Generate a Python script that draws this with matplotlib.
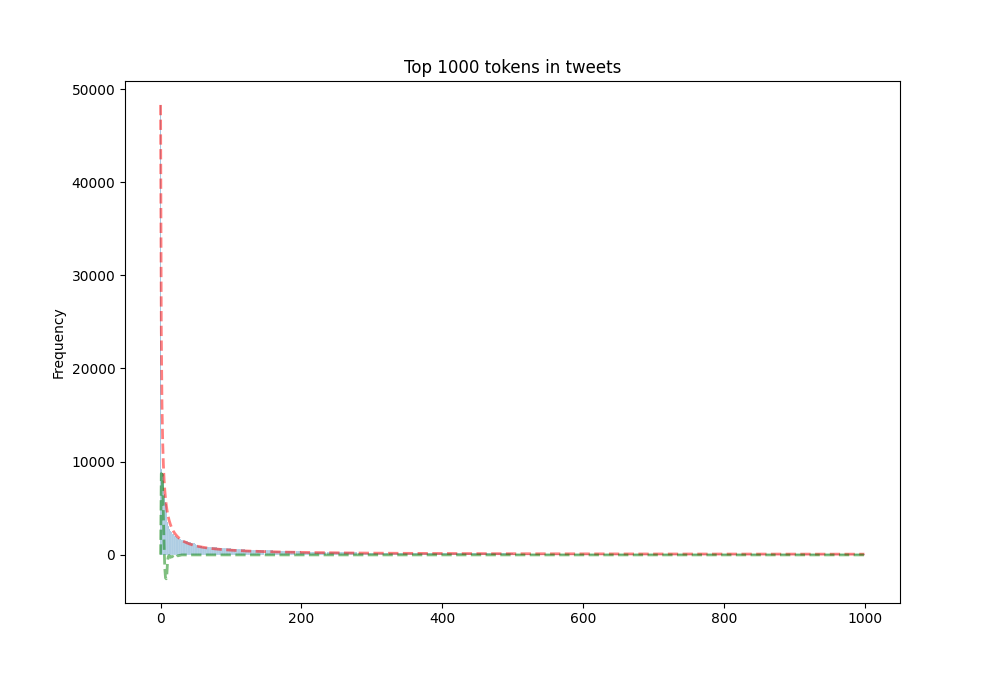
import matplotlib
matplotlib.use("Agg")
import matplotlib.pyplot as plt
import numpy as np

# estimated token frequencies, ranks 0..59
head_freq = [48300, 9200, 8900, 8800, 8700, 8600, 6500, 5600, 5400, 5300,
             3500, 3100, 2900, 2700, 2500, 2400, 2300, 2250, 2200, 2100,
             2000, 1950, 1900, 1850, 1800, 1750, 1700, 1650, 1650, 1600,
             1600, 1600, 1550, 1550, 1500, 1500, 1500, 1450, 1450, 1400,
             1400, 1400, 1350, 1350, 1300, 1300, 1250, 1250, 1200, 1150,
             1100, 1050, 1000, 980, 960, 940, 920, 900, 880, 860]
# estimated frequencies for the tail, one value per block of 20 ranks (60..999)
tail_blocks = [800, 700, 600, 520, 460, 400, 360, 320, 290, 260,
               240, 220, 200, 190, 180, 170, 160, 150, 140, 135,
               130, 125, 120, 115, 110, 105, 100, 95, 92, 90,
               88, 85, 82, 80, 78, 76, 74, 72, 70, 68,
               66, 64, 62, 60, 58, 56, 55]
# estimated residual curve, ranks 0..29 (rest near zero)
head_resid = [0, 8700, 8600, 7000, 4000, 1000, -1500, -2500, -2600, -2000,
              -600, -200, -100, -200, -300, -250, -200, -200, -250, -300,
              -350, -400, -300, -200, -150, -100, -100, -80, -60, -50]
tail_resid = -30

freq = np.concatenate([head_freq, np.repeat(tail_blocks, 20)])
ranks = np.arange(len(freq))
expected = freq[0] / (ranks + 1)
resid = np.concatenate([head_resid, np.full(len(freq) - len(head_resid), tail_resid)])

fig, ax = plt.subplots(figsize=(10, 6.77), dpi=100)
ax.bar(ranks, freq, width=1.0, color="C0", alpha=0.5, edgecolor="white", linewidth=0.3)
ax.plot(ranks, expected, "r--", alpha=0.5, linewidth=2)
ax.plot(ranks, resid, "g--", alpha=0.5, linewidth=2)
ax.set_title("Top 1000 tokens in tweets")
ax.set_ylabel("Frequency")
fig.savefig("out.png")
